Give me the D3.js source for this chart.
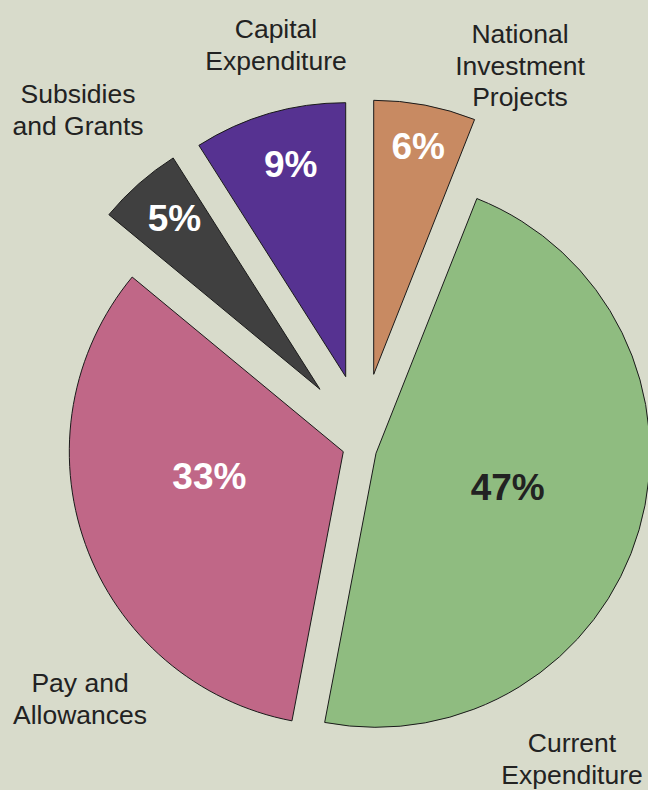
<!DOCTYPE html>
<html>
<head>
<meta charset="utf-8">
<title>Expenditure shares</title>
<script src="https://cdn.jsdelivr.net/npm/d3@7"></script>
<style>
  body { margin: 0; background: #d8dbcb; overflow: hidden; }
  svg { display: block; }
  .cat { font-family: "Liberation Sans", Arial, sans-serif; font-size: 26.5px; fill: #222; }
  .pct { font-family: "Liberation Sans", Arial, sans-serif; font-size: 37px; font-weight: bold; }
</style>
</head>
<body>
<svg id="chart" width="648" height="790"></svg>
<script>
// data, clockwise from 12 o'clock
const categories = ["National Investment Projects", "Current Expenditure", "Pay and Allowances", "Subsidies and Grants", "Capital Expenditure"];
const shares = [6, 47, 33, 5, 9];
const pctLabels = ["6%", "47%", "33%", "5%", "9%"];
const labelLines = [
  ["National", "Investment", "Projects"],
  ["Current", "Expenditure"],
  ["Pay and", "Allowances"],
  ["Subsidies", "and Grants"],
  ["Capital", "Expenditure"]
];

// styles
const colors = ["#c88a62", "#8fbc80", "#c06787", "#404040", "#563291"];
const pctColors = ["#fff", "#222", "#fff", "#fff", "#fff"];

// layout
const radius = 274;
const center = [362, 440];
// each slice is pulled out by hand in the original, so offsets are per slice
const explode = [[11.7, -65.7], [14, 13.3], [-18.7, 11.7], [-42, -50.7], [-16.3, -63.3]];
// [distance from apex, angle nudge in degrees] for the % labels
const pctPlace = [[233, 0.2], [136, -1.8], [136, 9.8], [225, 1.1], [220, 1.7]];
// [centre x, first baseline] for category labels
const labelPlace = [[520, 43], [572, 752], [80, 692], [78, 103], [276, 38]];
const lineGap = 31.5;

const svg = d3.select("#chart");

const pie = d3.pie().sort(null).value(d => d);
const arcs = pie(shares);
const arc = d3.arc().innerRadius(0).outerRadius(radius);

const slices = svg.append("g")
  .attr("transform", `translate(${center[0]},${center[1]})`)
  .selectAll("g")
  .data(arcs)
  .enter()
  .append("g")
  .attr("transform", (d, i) => `translate(${explode[i][0]},${explode[i][1]})`);

slices.append("path")
  .attr("d", arc)
  .attr("fill", (d, i) => colors[i])
  .attr("stroke", "#1a1a1a")
  .attr("stroke-width", 1)
  .attr("stroke-linejoin", "miter");

slices.append("text")
  .attr("class", "pct")
  .attr("text-anchor", "middle")
  .attr("dy", "0.36em")
  .attr("fill", (d, i) => pctColors[i])
  .attr("x", (d, i) => {
    const a = (d.startAngle + d.endAngle) / 2 + pctPlace[i][1] * Math.PI / 180;
    return pctPlace[i][0] * Math.sin(a);
  })
  .attr("y", (d, i) => {
    const a = (d.startAngle + d.endAngle) / 2 + pctPlace[i][1] * Math.PI / 180;
    return -pctPlace[i][0] * Math.cos(a);
  })
  .text((d, i) => pctLabels[i]);

const cats = svg.append("g")
  .selectAll("text")
  .data(categories)
  .enter()
  .append("text")
  .attr("class", "cat")
  .attr("text-anchor", "middle")
  .attr("x", (d, i) => labelPlace[i][0])
  .attr("y", (d, i) => labelPlace[i][1]);

cats.selectAll("tspan")
  .data((d, i) => labelLines[i].map(t => ({ t, i })))
  .enter()
  .append("tspan")
  .attr("x", d => labelPlace[d.i][0])
  .attr("dy", (d, j) => j === 0 ? 0 : lineGap)
  .text(d => d.t);
</script>
</body>
</html>
